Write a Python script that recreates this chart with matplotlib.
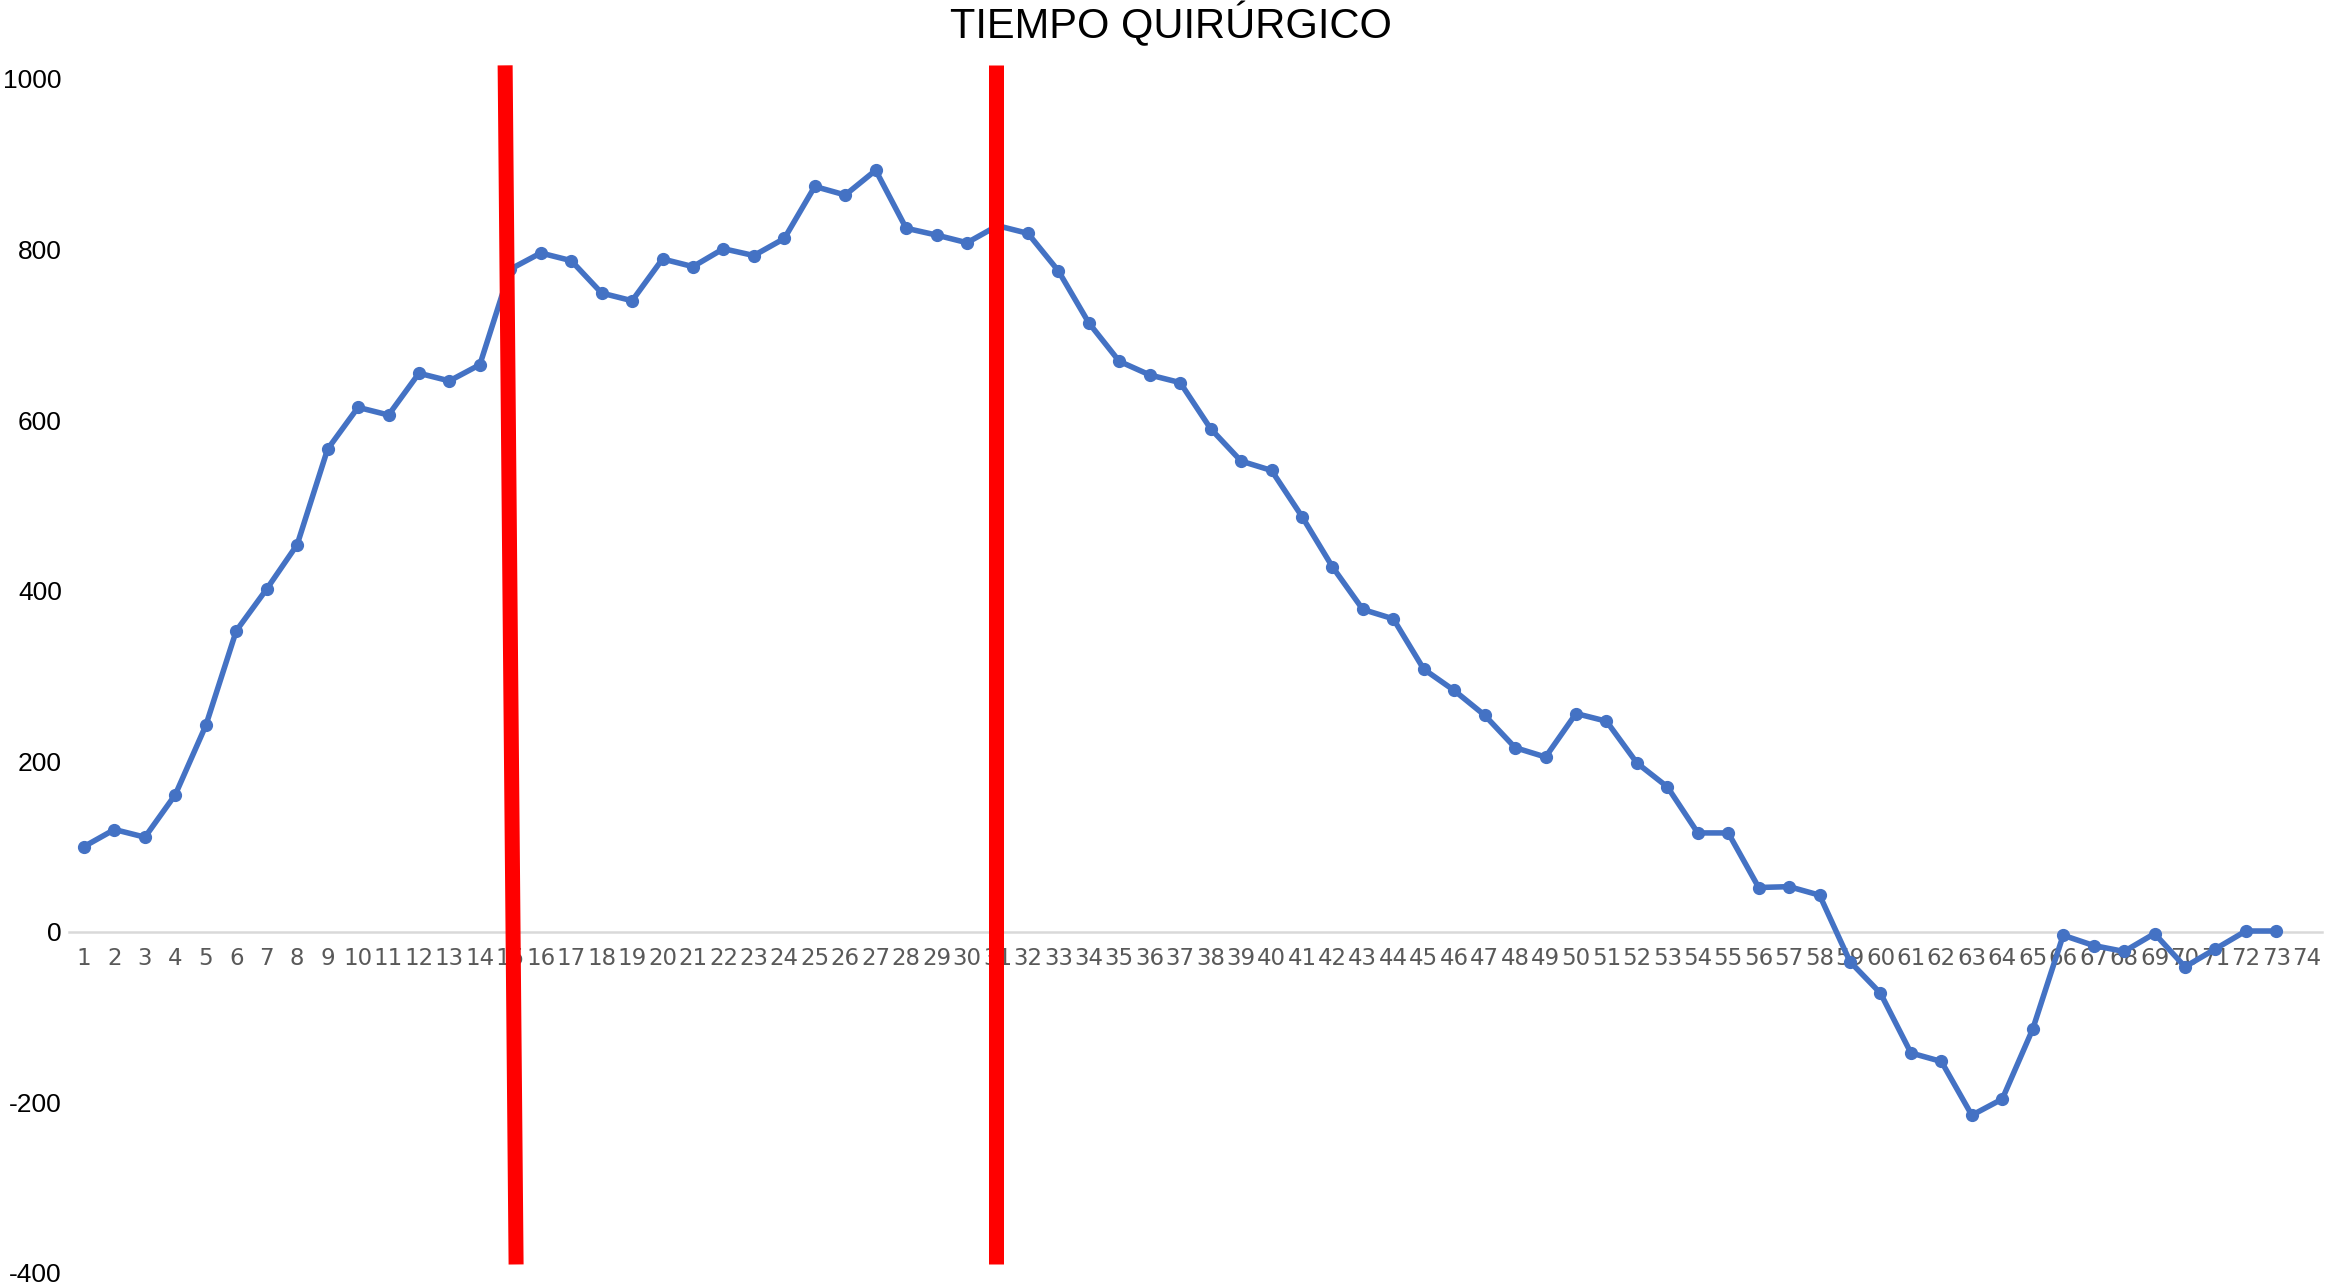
import matplotlib
matplotlib.use("Agg")
import matplotlib.pyplot as plt
from matplotlib import font_manager

# ---- data ----
categories = list(range(1, 75))
x_values = list(range(1, 74))
tiempo = [100, 120, 111, 161, 242, 353, 402, 454, 566, 615,
          606, 655, 646, 665, 777, 796, 787, 749, 740, 789,
          780, 801, 793, 813, 874, 864, 893, 825, 817, 808,
          828, 819, 775, 714, 669, 653, 644, 590, 552, 541,
          487, 428, 378, 367, 308, 283, 254, 216, 205, 256,
          247, 198, 170, 116, 116, 52, 53, 43, -35, -72,
          -142, -152, -215, -196, -114, -4, -16, -23, -2, -41,
          -20, 1, 1]
y_ticks = [-400, -200, 0, 200, 400, 600, 800, 1000]
red1_x = [14.83, 15.19]
red2_x = [30.95, 30.95]
red_y = [1016, -390]
title = "TIEMPO QUIRÚRGICO"

names = {f.name for f in font_manager.fontManager.ttflist}
narrow = "Liberation Sans Narrow" if "Liberation Sans Narrow" in names else "DejaVu Sans Condensed"
main_font = "Liberation Sans"

fig = plt.figure(figsize=(23.45, 12.87), dpi=100)
W, H = 2345, 1287
left = 68.8 / W
right = 2322 / W
top = 1 - 79 / H
bottom = 1 - 1273 / H
ax = fig.add_axes([left, bottom, right - left, top - bottom])

ax.plot(x_values, tiempo, color="#4472C4", lw=4.0, marker="o", ms=8.5,
        zorder=3, solid_joinstyle="round")
ax.plot(red1_x, red_y, color="#FF0000", lw=10.8, solid_capstyle="butt",
        clip_on=False, zorder=4)
ax.plot(red2_x, red_y, color="#FF0000", lw=10.8, solid_capstyle="butt",
        clip_on=False, zorder=4)

ax.set_xlim(0.5, 74.5)
ax.set_ylim(-400, 1000)

for s in ["top", "right", "left"]:
    ax.spines[s].set_visible(False)
ax.spines["bottom"].set_position(("data", 0))
ax.spines["bottom"].set_color("#D9D9D9")
ax.spines["bottom"].set_linewidth(1.8)
ax.spines["bottom"].set_zorder(1)

ax.set_xticks(categories)
ax.set_xticklabels([str(c) for c in categories], fontfamily=narrow,
                   fontsize=16.5, color="#595959")
ax.set_yticks(y_ticks)
ax.set_yticklabels([str(v) for v in y_ticks], fontfamily=main_font,
                   fontsize=19, color="black")
ax.tick_params(axis="x", length=0, pad=11)
ax.tick_params(axis="y", length=0, pad=5)
ax.xaxis.set_zorder(1.5)

fig.text(1171 / W, 1 - 25 / H, title, ha="center", va="center",
         fontsize=30, fontfamily=main_font, color="black")

fig.savefig("out.png", dpi=100)
